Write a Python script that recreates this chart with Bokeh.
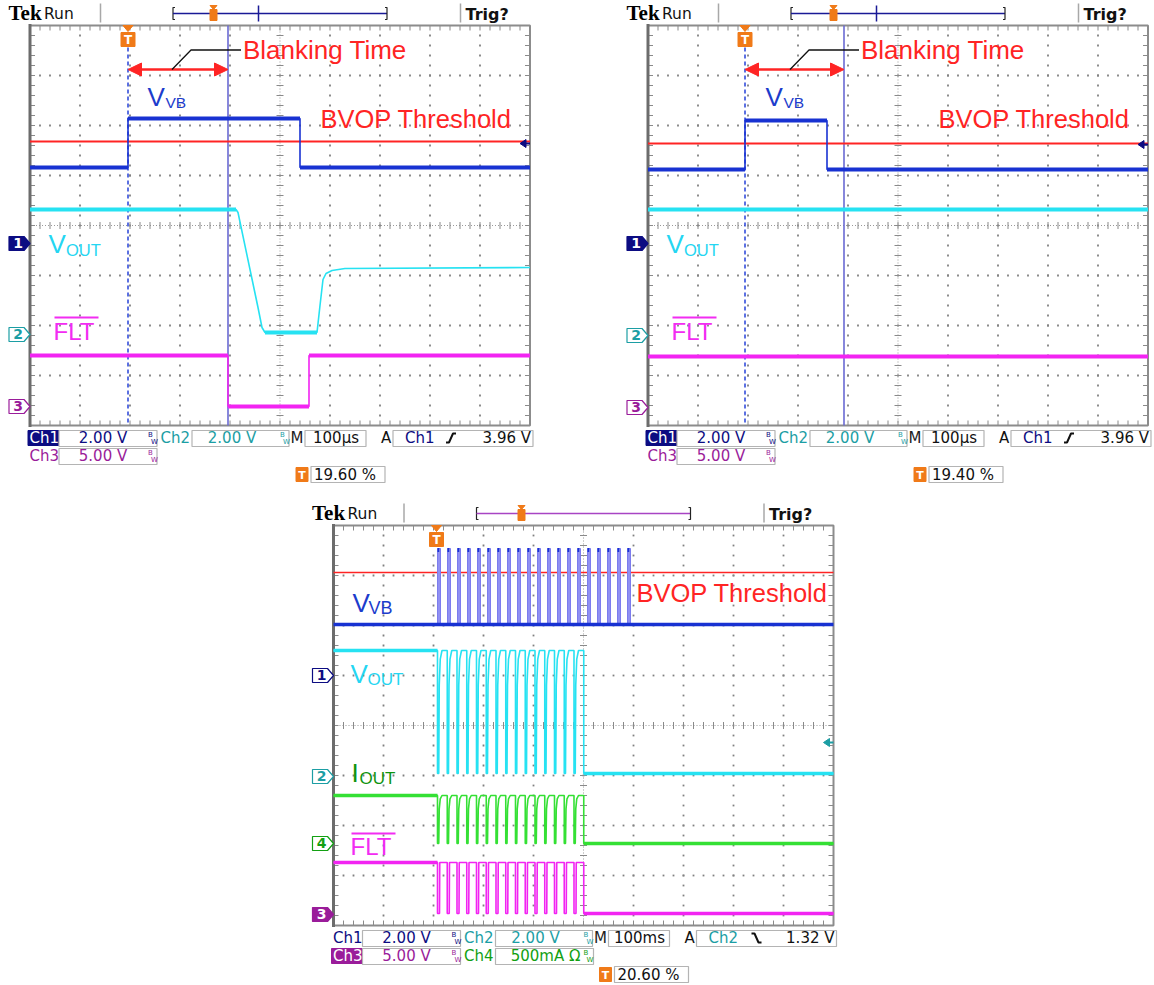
from bokeh.plotting import figure
from bokeh.models import Range1d, Spacer
from bokeh.layouts import column, row
from bokeh.core.properties import value
from bokeh.embed import file_html
from bokeh.resources import INLINE

# ---------------- data, in scope divisions (x 0..10, y -4..4) ----------------
# top-left capture: VVB pulse longer than the blanking time -> fault
a_trigger_x = 1.96
a_cursor_x = 3.96
a_bvop_y = 1.68
a_vvb_x = [0.0, 1.96, 1.96, 5.40, 5.40, 10.0]
a_vvb_y = [1.16, 1.16, 2.14, 2.14, 1.16, 1.16]
a_vout_x = [0.0, 4.12, 4.16, 4.56, 4.64, 4.70, 5.74, 5.80, 5.86, 5.92, 6.04, 6.30, 10.0]
a_vout_y = [0.32, 0.32, 0.26, -1.64, -2.04, -2.14, -2.14, -1.60, -1.08, -0.96, -0.90, -0.86, -0.84]
a_flt_x = [0.0, 3.96, 3.96, 5.58, 5.58, 10.0]
a_flt_y = [-2.60, -2.60, -3.62, -3.62, -2.60, -2.60]
a_ch_labels = ["1", "2", "3"]
a_ch_ground = [-0.36, -2.18, -3.62]
a_trig_level = 1.64
a_percent = "19.60 %"

# top-right capture: VVB pulse shorter than the blanking time -> no fault
b_trigger_x = 1.94
b_cursor_x = 3.92
b_bvop_y = 1.64
b_vvb_x = [0.0, 1.94, 1.94, 3.58, 3.58, 10.0]
b_vvb_y = [1.12, 1.12, 2.10, 2.10, 1.12, 1.12]
b_vout_x = [0.0, 10.0]
b_vout_y = [0.32, 0.32]
b_flt_x = [0.0, 10.0]
b_flt_y = [-2.62, -2.62]
b_ch_labels = ["1", "2", "3"]
b_ch_ground = [-0.36, -2.20, -3.64]
b_trig_level = 1.62
b_percent = "19.40 %"

# bottom capture: repetitive VVB pulses
c_trigger_x = 2.06
c_bvop_y = 3.06
c_vvb_low = 2.02
c_vvb_high = 3.54
c_vvb_pulse_x = [2.08, 2.28, 2.48, 2.68, 2.88, 3.08, 3.28, 3.48, 3.68, 3.88,
                 4.08, 4.28, 4.48, 4.68, 4.88, 5.08, 5.28, 5.48, 5.68, 5.88]
c_vvb_pulse_w = 0.06
c_fault_x = [2.08, 2.275, 2.47, 2.665, 2.86, 3.055, 3.25, 3.445, 3.64, 3.835,
             4.03, 4.225, 4.42, 4.615, 4.81, 5.005]
c_vout_hi, c_vout_lo = 1.50, -0.96
c_iout_hi, c_iout_lo = -1.40, -2.36
c_flt_hi, c_flt_lo = -2.74, -3.76
hump_dx = [0.0, 0.0, 0.025, 0.035, 0.055, 0.09]
hump_f = [1.0, 0.0, 0.0, 0.72, 0.93, 1.0]
dip_dx = [0.0, 0.0, 0.04, 0.045]
dip_f = [1.0, 0.0, 0.0, 1.0]
c_ch_labels = ["1", "2", "4", "3"]
c_ch_ground = [1.00, -1.02, -2.36, -3.78]
c_trig_level = -0.34
c_percent = "20.60 %"

# ---------------- styling ----------------
DIV = 50.0
SANS = "Liberation Sans"
MONO = "DejaVu Sans"
SERIF = "Liberation Serif"
NAVY = "#0c0c82"
TEAL = "#1c9ea4"
PURPLE = "#9a1c9a"
GREEN4 = "#12a012"
C_VVB = "#1832d2"
C_VVB_LT = "#9090f2"
C_VOUT = "#26e2f2"
C_FLT = "#f224f2"
C_IOUT = "#34e034"
RED = "#ff2424"
CURSOR = "#6a6ad4"
ORANGE = "#f07a18"
GRID = "#808080"
CH_COLORS = {"1": NAVY, "2": TEAL, "3": PURPLE, "4": GREEN4}


class Panel:
    def __init__(self, gl, gt, left, top, w, h):
        self.gl, self.gt = gl, gt
        x0 = (left - gl) / DIV
        x1 = (left + w - gl) / DIV
        y1 = 4 - (top - gt) / DIV
        y0 = 4 - (top + h - gt) / DIV
        p = figure(width=w, height=h, x_range=Range1d(x0, x1), y_range=Range1d(y0, y1),
                   output_backend="svg", toolbar_location=None,
                   x_axis_location=None, y_axis_location=None,
                   min_border=0, min_border_left=0, min_border_right=0,
                   min_border_top=0, min_border_bottom=0)
        p.grid.visible = False
        p.outline_line_color = None
        p.background_fill_color = "white"
        p.border_fill_color = "white"
        self.p = p

    @staticmethod
    def X(rx):
        return rx / DIV

    @staticmethod
    def Y(ry):
        return 4 - ry / DIV

    def text(self, rx, ry, s, size, color, font=SANS, align="left", style="normal"):
        # ry is the baseline; draw with a centred baseline at the cap middle
        yc = ry - 0.36 * size
        self.p.text(x=[self.X(rx)], y=[self.Y(yc)], text=[s], text_font=value(font),
                    text_font_size=f"{size}px", text_color=color, text_align=align,
                    text_baseline="middle", text_font_style=style)

    def poly(self, rxs, rys, color, width=1.0, dash="solid"):
        self.p.line([self.X(v) for v in rxs], [self.Y(v) for v in rys],
                    line_color=color, line_width=width, line_dash=dash)

    def box(self, rx0, ry0, rx1, ry1, fill=None, line=None, lw=1.0):
        self.p.quad(left=[self.X(rx0)], right=[self.X(rx1)], top=[self.Y(ry0)],
                    bottom=[self.Y(ry1)], fill_color=fill, line_color=line, line_width=lw)

    def tri(self, pts, color):
        self.p.patch([self.X(a) for a, b in pts], [self.Y(b) for a, b in pts],
                     fill_color=color, line_color=color)


def graticule(P):
    p = P.p
    gx, gy = [], []
    for i in (1, 2, 3, 4, 6, 7, 8, 9):
        for k in range(1, 40):
            gx.append(i)
            gy.append(-4 + 0.2 * k)
    for j in (-3, -2, -1, 1, 2, 3):
        for k in range(1, 50):
            gx.append(0.2 * k)
            gy.append(j)
    p.scatter(gx, gy, marker="square", size=1.8, fill_color=GRID, line_color=None)
    p.segment([5, 0], [-4, 0], [5, 10], [4, 0], line_color="#9a9a9a", line_width=1, line_dash="1 2")
    tx0, ty0, tx1, ty1 = [], [], [], []
    for k in range(1, 50):
        x = 0.2 * k
        tx0 += [x, x, x]
        ty0 += [-0.07, 4, -4]
        tx1 += [x, x, x]
        ty1 += [0.07, 3.9, -3.9]
    for k in range(1, 40):
        y = -4 + 0.2 * k
        tx0 += [4.93, 0, 10]
        ty0 += [y, y, y]
        tx1 += [5.07, 0.1, 9.9]
        ty1 += [y, y, y]
    p.segment(tx0, ty0, tx1, ty1, line_color="#8a8a8a", line_width=1)
    p.quad(left=[0], right=[10], bottom=[-4], top=[4], fill_color=None,
           line_color="#8c8c8c", line_width=2)
    p.segment([0], [-4.03], [0], [4.03], line_color="#6c6c6c", line_width=3)


def flat_segments(xs, ys, min_len):
    x0, y0, x1, y1 = [], [], [], []
    for i in range(len(xs) - 1):
        if ys[i] == ys[i + 1] and xs[i + 1] - xs[i] >= min_len:
            x0.append(xs[i]); y0.append(ys[i]); x1.append(xs[i + 1]); y1.append(ys[i + 1])
    return x0, y0, x1, y1


def trace(p, xs, ys, color, thin=1.6, thick=4.0, min_len=0.3):
    p.line(xs, ys, line_color=color, line_width=thin)
    x0, y0, x1, y1 = flat_segments(xs, ys, min_len)
    p.segment(x0, y0, x1, y1, line_color=color, line_width=thick)


def repeat_shape(fault_x, dx, f, lo, hi):
    xs, ys = [0.0], [hi]
    for t in fault_x[:-1]:
        for d, ff in zip(dx, f):
            xs.append(t + d)
            ys.append(lo + ff * (hi - lo))
    last = fault_x[-1]
    xs += [last, last, 10.0]
    ys += [hi, lo, lo]
    return xs, ys


def header(P, bracket_color, t_rx, tick_rx):
    P.text(-21.5, -4.5, "Tek", 21, "black", font=SERIF, style="bold")
    P.text(14, -6, "Run", 15.5, "#111111", font=MONO)
    P.poly([70.5, 70.5], [-22, -3], "#a8a8a8", 1.5)
    P.poly([430.5, 430.5], [-22, -3], "#a8a8a8", 1.5)
    P.poly([145, 143, 143, 145], [-18, -18, -6, -6], "#222222", 1.2)
    P.poly([143, 357], [-12, -12], bracket_color, 1.5)
    P.poly([355, 357, 357, 355], [-18, -18, -6, -6], "#222222", 1.2)
    if tick_rx is not None:
        P.poly([tick_rx, tick_rx], [-20, -4], bracket_color, 1.5)
    P.box(t_rx - 3.5, -16, t_rx + 3.5, -5, fill=ORANGE, line=ORANGE)
    P.tri([(t_rx - 3.5, -20), (t_rx + 3.5, -20), (t_rx, -16)], ORANGE)
    P.text(435.5, -5, "Trig?", 16, "#111111", font=MONO, style="bold")


def trig_marker(P, x_div):
    rx = x_div * DIV
    P.tri([(rx - 5, 0), (rx + 5, 0), (rx, 6)], ORANGE)
    P.box(rx - 7, 7, rx + 7, 21, fill=ORANGE, line=ORANGE)
    P.text(rx, 18.5, "T", 12, "white", font=MONO, align="center", style="bold")


def bw(P, rx, ry_top, color):
    P.text(rx, ry_top + 7, "B", 7, color, font=MONO)
    P.text(rx + 3, ry_top + 14, "W", 7, color, font=MONO)


def ch_label(P, rx, ry_base, name, color, filled):
    if filled:
        P.box(rx, ry_base - 13, rx + 31, ry_base + 2, fill=color, line=color)
        P.text(rx + 1.5, ry_base, name, 15, "white", font=MONO)
    else:
        P.text(rx + 1.5, ry_base, name, 15, color, font=MONO)


def readout_box(P, rx0, rx1, ry0, ry1):
    P.box(rx0, ry0, rx1, ry1, fill="white", line="#b4b4b4", lw=1.2)


def footer(P, ch1_filled, ch3_filled, src, src_color, rising, level, timebase, pct, ch4):
    r1, r2 = 405, 423
    ch_label(P, -2, r1 + 13, "Ch1", NAVY, ch1_filled)
    readout_box(P, 29, 127, r1, r1 + 16)
    P.text(73, r1 + 13, "2.00 V", 15, NAVY, font=MONO, align="center")
    bw(P, 118, r1, NAVY)
    ch_label(P, 129, r1 + 13, "Ch2", TEAL, False)
    readout_box(P, 162, 259, r1, r1 + 16)
    P.text(202, r1 + 13, "2.00 V", 15, TEAL, font=MONO, align="center")
    bw(P, 250, r1, TEAL)
    P.text(260.5, r1 + 13, "M", 15, "#222222", font=MONO)
    readout_box(P, 275, 336, r1, r1 + 16)
    P.text(306, r1 + 13, timebase, 15, "#111111", font=MONO, align="center")
    P.text(351, r1 + 13, "A", 15, "#111111", font=MONO)
    readout_box(P, 363, 503, r1, r1 + 16)
    P.text(375, r1 + 13, src, 15, src_color, font=MONO)
    if rising:
        P.poly([416, 419, 423, 426], [r1 + 12, r1 + 12, r1 + 3, r1 + 3], "#111111", 2)
    else:
        P.poly([418, 421, 425, 428], [r1 + 3, r1 + 3, r1 + 12, r1 + 12], "#111111", 2)
    P.text(501, r1 + 13, level, 15, "#111111", font=MONO, align="right")
    # second row
    ch_label(P, -2, r2 + 13, "Ch3", PURPLE, ch3_filled)
    readout_box(P, 29, 127, r2, r2 + 16)
    P.text(73, r2 + 13, "5.00 V", 15, PURPLE, font=MONO, align="center")
    bw(P, 118, r2, PURPLE)
    if ch4 is not None:
        ch_label(P, 129, r2 + 13, "Ch4", GREEN4, False)
        readout_box(P, 162, 260, r2, r2 + 16)
        P.text(212, r2 + 13, ch4, 15, GREEN4, font=MONO, align="center")
        bw(P, 250, r2, GREEN4)
    # trigger position readout
    P.box(266, 442, 278, 456, fill=ORANGE, line=ORANGE)
    P.text(272, 453.5, "T", 11, "white", font=MONO, align="center", style="bold")
    readout_box(P, 281, 355, 441, 457)
    P.text(284, 455, pct, 15, "#111111", font=MONO)


def ch_markers(P, labels, grounds, filled_label):
    for lab, g in zip(labels, grounds):
        color = CH_COLORS[lab]
        ry = (4 - g) * DIV
        pts = [(-21, ry - 7), (-6, ry - 7), (0, ry), (-6, ry + 7), (-21, ry + 7)]
        filled = lab == filled_label
        P.p.patch([P.X(a) for a, b in pts], [P.Y(b) for a, b in pts],
                  fill_color=color if filled else "white", line_color=color, line_width=1.2)
        P.text(-12, ry + 5, lab, 14, "white" if filled else color, font=MONO,
               align="center", style="bold")


def level_arrow(P, y_div, color):
    ry = (4 - y_div) * DIV
    P.tri([(490, ry), (496, ry - 4), (496, ry + 4)], color)
    P.poly([496, 500], [ry, ry], color, 2)


def sub_label(P, rx, ry, main, sub, size, sub_size, color, sub_dx):
    P.text(rx, ry, main, size, color)
    P.text(rx + sub_dx, ry + 2, sub, sub_size, color)


def flt_label(P, rx, ry, overline_ry, size, color):
    P.text(rx, ry, "FLT", size, color)
    P.poly([rx + 1, rx + 45], [overline_ry, overline_ry], color, 2)


def blanking(P, trig, cursor):
    p = P.p
    y = P.Y(44)
    p.segment([trig + 0.24], [y], [cursor - 0.24], [y], line_color=RED, line_width=2.5)
    p.patch([trig, trig + 0.27, trig + 0.27], [y, y + 0.13, y - 0.13], fill_color=RED, line_color=RED)
    p.patch([cursor, cursor - 0.27, cursor - 0.27], [y, y + 0.13, y - 0.13], fill_color=RED, line_color=RED)
    P.poly([142, 161, 211], [44, 24.5, 24.5], "#111111", 1.3)
    P.text(213, 34, "Blanking Time", 26, RED)


def top_panel(gl, left, width, trig, cursor, bvop, vvb_x, vvb_y, vout_x, vout_y, flt_x, flt_y,
              labels, grounds, trig_level, pct, t_rx):
    P = Panel(gl, 25, left, 0, width, 490)
    p = P.p
    graticule(P)
    header(P, "#1a1a96", t_rx, 228.5)
    p.segment([trig], [P.Y(22)], [trig], [-4], line_color="#2440d8", line_width=1.5, line_dash="4 3")
    p.segment([cursor], [4], [cursor], [-4], line_color=CURSOR, line_width=1.6)
    p.segment([0], [bvop], [10], [bvop], line_color=RED, line_width=2)
    trace(p, vout_x, vout_y, C_VOUT)
    trace(p, flt_x, flt_y, C_FLT)
    trace(p, vvb_x, vvb_y, C_VVB)
    trig_marker(P, trig)
    blanking(P, trig, cursor)
    sub_label(P, 117.5, 81, "V", "VB", 26, 15.5, "#1c3ccc", 18)
    P.text(290.5, 103, "BVOP Threshold", 25.5, RED)
    sub_label(P, 18.5, 228, "V", "OUT", 26, 16.5, "#24d6f2", 17.5)
    flt_label(P, 23.5, 315, 292, 24, "#f22cf2")
    ch_markers(P, labels, grounds, "1")
    level_arrow(P, trig_level, NAVY)
    footer(P, True, False, "Ch1", NAVY, True, "3.96 V", "100µs", pct, None)
    return p


pa = top_panel(29.5, 0, 578, a_trigger_x, a_cursor_x, a_bvop_y, a_vvb_x, a_vvb_y,
               a_vout_x, a_vout_y, a_flt_x, a_flt_y, a_ch_labels, a_ch_ground,
               a_trig_level, a_percent, 183.5)
pb = top_panel(647.5, 578, 574, b_trigger_x, b_cursor_x, b_bvop_y, b_vvb_x, b_vvb_y,
               b_vout_x, b_vout_y, b_flt_x, b_flt_y, b_ch_labels, b_ch_ground,
               b_trig_level, b_percent, 185.5)

# ---------------- bottom panel ----------------
PC = Panel(333, 525, 300, 490, 550, 494)
pc = PC.p
graticule(PC)
header(PC, "#a844c4", 188, None)
pc.segment([0], [c_bvop_y], [10], [c_bvop_y], line_color=RED, line_width=1.6)
pc.quad(left=c_vvb_pulse_x, right=[x + c_vvb_pulse_w for x in c_vvb_pulse_x],
        bottom=[c_vvb_low] * len(c_vvb_pulse_x), top=[c_vvb_high] * len(c_vvb_pulse_x),
        fill_color=C_VVB_LT, line_color="#7c7cee", line_width=1)
pc.quad(left=c_vvb_pulse_x, right=[x + 0.035 for x in c_vvb_pulse_x],
        bottom=[c_vvb_high - 0.07] * len(c_vvb_pulse_x), top=[c_vvb_high + 0.01] * len(c_vvb_pulse_x),
        fill_color=C_VVB, line_color=None)
pc.segment([0], [c_vvb_low], [10], [c_vvb_low], line_color=C_VVB, line_width=3.5)

vx, vy = repeat_shape(c_fault_x, hump_dx, hump_f, c_vout_lo, c_vout_hi)
trace(pc, vx, vy, C_VOUT, thin=1.6, thick=3.5, min_len=0.5)
ix, iy = repeat_shape(c_fault_x, hump_dx, hump_f, c_iout_lo, c_iout_hi)
trace(pc, ix, iy, C_IOUT, thin=1.6, thick=3.5, min_len=0.5)
fx, fy = repeat_shape(c_fault_x, dip_dx, dip_f, c_flt_lo, c_flt_hi)
trace(pc, fx, fy, C_FLT, thin=1.6, thick=3.5, min_len=0.5)

trig_marker(PC, c_trigger_x)
sub_label(PC, 19, 87, "V", "VB", 26, 18, "#1c3ccc", 16)
PC.text(303, 77, "BVOP Threshold", 25.5, RED)
sub_label(PC, 17, 158, "V", "OUT", 26, 17, "#24d6f2", 17)
sub_label(PC, 18, 257, "I", "OUT", 26, 17, "#0e940e", 8)
flt_label(PC, 17, 330, 308, 24, "#f22cf2")
ch_markers(PC, c_ch_labels, c_ch_ground, "3")
level_arrow(PC, c_trig_level, TEAL)
footer(PC, False, True, "Ch2", TEAL, False, "1.32 V", "100ms", c_percent, "500mA Ω")

layout = column(row(pa, pb), row(Spacer(width=300, height=10), pc))
open("out.html", "w").write(file_html(layout, INLINE))
